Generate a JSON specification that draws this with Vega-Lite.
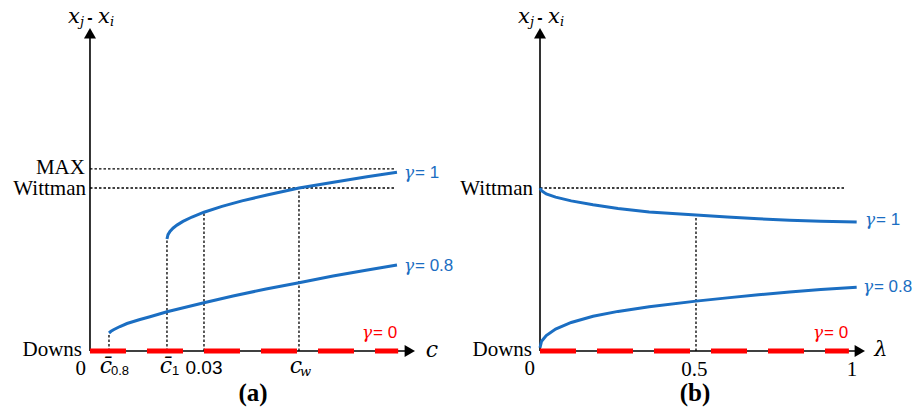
{
  "$schema": "https://vega.github.io/schema/vega-lite/v6.json",
  "padding": 0,
  "spacing": 0,
  "bounds": "flush",
  "background": "white",
  "config": {"view": {"stroke": null}},
  "hconcat": [
    {
      "width": 459,
      "height": 412,
      "encoding": {
        "x": {"field": "x", "type": "quantitative", "scale": {"domain": [-0.02368, 0.09711], "nice": false, "zero": false}, "axis": null},
        "y": {"field": "y", "type": "quantitative", "scale": {"domain": [-0.3742, 2.1534], "nice": false, "zero": false}, "axis": null}
      },
      "layer": [
        {
          "data": {"values": [
            {"x": 0, "y": 1.117, "x2": 0.0803, "y2": 1.117},
            {"x": 0, "y": 1.0, "x2": 0.0803, "y2": 1.0},
            {"x": 0.005, "y": 0, "x2": 0.005, "y2": 0.1104},
            {"x": 0.02026, "y": 0, "x2": 0.02026, "y2": 0.6871},
            {"x": 0.03, "y": 0, "x2": 0.03, "y2": 0.8515},
            {"x": 0.055, "y": 0, "x2": 0.055, "y2": 1.0}
          ]},
          "mark": {"type": "rule", "color": "black", "strokeWidth": 1.3, "strokeDash": [2.5, 2]},
          "encoding": {"x2": {"field": "x2"}, "y2": {"field": "y2"}}
        },
        {
          "data": {"values": [
            {"x": 0, "y": 0, "x2": 0.0838, "y2": 0},
            {"x": 0, "y": 0, "x2": 0, "y2": 1.945}
          ]},
          "mark": {"type": "rule", "color": "black", "strokeWidth": 1.6},
          "encoding": {"x2": {"field": "x2"}, "y2": {"field": "y2"}}
        },
        {
          "data": {"values": [{"x": 0, "y": 0, "x2": 0.0811, "y2": 0}]},
          "mark": {"type": "rule", "color": "#ff0000", "strokeWidth": 5, "strokeDash": [36, 21], "strokeCap": "butt"},
          "encoding": {"x2": {"field": "x2"}, "y2": {"field": "y2"}}
        },
        {
          "data": {"values": [
            {"series": "g1", "x": 0.02026, "y": 0.6871},
            {"series": "g1", "x": 0.02053, "y": 0.7141},
            {"series": "g1", "x": 0.02105, "y": 0.7337},
            {"series": "g1", "x": 0.02184, "y": 0.7534},
            {"series": "g1", "x": 0.02289, "y": 0.7724},
            {"series": "g1", "x": 0.02447, "y": 0.7951},
            {"series": "g1", "x": 0.02684, "y": 0.8221},
            {"series": "g1", "x": 0.03, "y": 0.8515},
            {"series": "g1", "x": 0.03474, "y": 0.8871},
            {"series": "g1", "x": 0.04, "y": 0.9209},
            {"series": "g1", "x": 0.04658, "y": 0.9571},
            {"series": "g1", "x": 0.055, "y": 1.0},
            {"series": "g1", "x": 0.06368, "y": 1.0337},
            {"series": "g1", "x": 0.07289, "y": 1.0687},
            {"series": "g1", "x": 0.08079, "y": 1.0963},
            {"series": "g08", "x": 0.005, "y": 0.1104},
            {"series": "g08", "x": 0.00553, "y": 0.1209},
            {"series": "g08", "x": 0.00632, "y": 0.1319},
            {"series": "g08", "x": 0.00789, "y": 0.1503},
            {"series": "g08", "x": 0.00974, "y": 0.1687},
            {"series": "g08", "x": 0.01316, "y": 0.1933},
            {"series": "g08", "x": 0.01579, "y": 0.2104},
            {"series": "g08", "x": 0.02026, "y": 0.2411},
            {"series": "g08", "x": 0.03, "y": 0.2963},
            {"series": "g08", "x": 0.03763, "y": 0.3374},
            {"series": "g08", "x": 0.04632, "y": 0.3804},
            {"series": "g08", "x": 0.055, "y": 0.419},
            {"series": "g08", "x": 0.06395, "y": 0.4601},
            {"series": "g08", "x": 0.07263, "y": 0.4957},
            {"series": "g08", "x": 0.08079, "y": 0.5276}
          ]},
          "mark": {"type": "line", "color": "#1b6ec2", "strokeWidth": 3},
          "encoding": {"detail": {"field": "series"}}
        },
        {
          "data": {"values": [
            {"x": 0, "y": 1.9497, "dir": "up"},
            {"x": 0.08416, "y": 0, "dir": "right"}
          ]},
          "mark": {"type": "point", "filled": true, "color": "black", "size": 144, "opacity": 1, "strokeWidth": 0},
          "encoding": {"shape": {"field": "dir", "type": "nominal", "scale": {"domain": ["up", "right"], "range": ["triangle-up", "triangle-right"]}, "legend": null}}
        },
        {
          "data": {"values": [
            {"x": -0.00132, "y": 1.122, "label": "MAX"},
            {"x": -0.00105, "y": 0.995, "label": "Wittman"},
            {"x": -0.0021, "y": 0.006, "label": "Downs"},
            {"x": -0.00105, "y": -0.108, "label": "0"}
          ]},
          "mark": {"type": "text", "font": "Liberation Serif", "fontSize": 21, "align": "right", "baseline": "middle", "color": "black"},
          "encoding": {"text": {"field": "label"}}
        },
        {
          "data": {"values": [{"x": 0.03, "y": -0.1043, "label": "0.03"}]},
          "mark": {"type": "text", "font": "Liberation Sans", "fontSize": 19, "align": "center", "baseline": "middle", "color": "black"},
          "encoding": {"text": {"field": "label"}}
        },
        {
          "data": {"values": [
            {"x": 0.00421, "y": -0.092, "label": "c̄"},
            {"x": 0.02, "y": -0.092, "label": "c̄"},
            {"x": 0.0542, "y": -0.092, "label": "c"},
            {"x": 0.09, "y": 0.006, "label": "c"}
          ]},
          "mark": {"type": "text", "font": "DejaVu Serif", "fontStyle": "italic", "fontSize": 22, "align": "center", "baseline": "middle", "color": "black"},
          "encoding": {"text": {"field": "label"}}
        },
        {
          "data": {"values": [
            {"x": 0.00553, "y": -0.1227, "label": "0.8"},
            {"x": 0.02158, "y": -0.1227, "label": "1"}
          ]},
          "mark": {"type": "text", "font": "Liberation Sans", "fontSize": 13, "align": "left", "baseline": "middle", "color": "black"},
          "encoding": {"text": {"field": "label"}}
        },
        {
          "data": {"values": [
            {"x": 0.05526, "y": -0.1288, "label": "w"},
            {"x": -0.00263, "y": 2.018, "label": "j"},
            {"x": 0.00526, "y": 2.018, "label": "i"}
          ]},
          "mark": {"type": "text", "font": "DejaVu Serif", "fontStyle": "italic", "fontSize": 13, "align": "left", "baseline": "middle", "color": "black"},
          "encoding": {"text": {"field": "label"}}
        },
        {
          "data": {"values": [
            {"x": -0.00421, "y": 2.049, "label": "x"},
            {"x": 0.00368, "y": 2.049, "label": "x"}
          ]},
          "mark": {"type": "text", "font": "DejaVu Serif", "fontStyle": "italic", "fontSize": 21, "align": "center", "baseline": "middle", "color": "black"},
          "encoding": {"text": {"field": "label"}}
        },
        {
          "data": {"values": [{"x": 0, "y": 2.043, "label": "-"}]},
          "mark": {"type": "text", "font": "Liberation Sans", "fontSize": 16, "fontWeight": "bold", "align": "center", "baseline": "middle", "color": "black"},
          "encoding": {"text": {"field": "label"}}
        },
        {
          "data": {"values": [{"x": 0.0429, "y": -0.2577, "label": "(a)"}]},
          "mark": {"type": "text", "font": "Liberation Serif", "fontWeight": "bold", "fontSize": 25, "align": "center", "baseline": "middle", "color": "black"},
          "encoding": {"text": {"field": "label"}}
        },
        {
          "data": {"values": [
            {"x": 0.08263, "y": 1.092, "sym": "γ", "rest": "= 1", "g": "1"},
            {"x": 0.08263, "y": 0.5215, "sym": "γ", "rest": "= 0.8", "g": "0.8"},
            {"x": 0.07158, "y": 0.1104, "sym": "γ", "rest": "= 0", "g": "0"}
          ]},
          "layer": [
            {
              "mark": {"type": "text", "font": "DejaVu Serif", "fontStyle": "italic", "fontSize": 17, "align": "left", "baseline": "middle"},
              "encoding": {
                "text": {"field": "sym"},
                "color": {"field": "g", "type": "nominal", "scale": {"domain": ["1", "0.8", "0"], "range": ["#1b6ec2", "#1b6ec2", "#ff0000"]}, "legend": null}
              }
            },
            {
              "mark": {"type": "text", "font": "Liberation Sans", "fontSize": 17, "align": "left", "baseline": "middle", "dx": 11},
              "encoding": {
                "text": {"field": "rest"},
                "color": {"field": "g", "type": "nominal", "scale": {"domain": ["1", "0.8", "0"], "range": ["#1b6ec2", "#1b6ec2", "#ff0000"]}, "legend": null}
              }
            }
          ]
        }
      ]
    },
    {
      "width": 459,
      "height": 412,
      "encoding": {
        "x": {"field": "x", "type": "quantitative", "scale": {"domain": [-0.25962, 1.21154], "nice": false, "zero": false}, "axis": null},
        "y": {"field": "y", "type": "quantitative", "scale": {"domain": [-0.3742, 2.1534], "nice": false, "zero": false}, "axis": null}
      },
      "layer": [
        {
          "data": {"values": [
            {"x": 0, "y": 1.0, "x2": 0.9776, "y2": 1.0},
            {"x": 0.5, "y": 0, "x2": 0.5, "y2": 0.834}
          ]},
          "mark": {"type": "rule", "color": "black", "strokeWidth": 1.3, "strokeDash": [2.5, 2]},
          "encoding": {"x2": {"field": "x2"}, "y2": {"field": "y2"}}
        },
        {
          "data": {"values": [
            {"x": 0, "y": 0, "x2": 1.02, "y2": 0},
            {"x": 0, "y": 0, "x2": 0, "y2": 1.945}
          ]},
          "mark": {"type": "rule", "color": "black", "strokeWidth": 1.6},
          "encoding": {"x2": {"field": "x2"}, "y2": {"field": "y2"}}
        },
        {
          "data": {"values": [{"x": 0, "y": 0, "x2": 0.99, "y2": 0}]},
          "mark": {"type": "rule", "color": "#ff0000", "strokeWidth": 5, "strokeDash": [36, 21], "strokeCap": "butt"},
          "encoding": {"x2": {"field": "x2"}, "y2": {"field": "y2"}}
        },
        {
          "data": {"values": [
            {"series": "g1", "x": 0, "y": 1.0},
            {"series": "g1", "x": 0.005, "y": 0.984},
            {"series": "g1", "x": 0.02, "y": 0.964},
            {"series": "g1", "x": 0.05, "y": 0.944},
            {"series": "g1", "x": 0.1, "y": 0.921},
            {"series": "g1", "x": 0.17, "y": 0.897},
            {"series": "g1", "x": 0.25, "y": 0.874},
            {"series": "g1", "x": 0.35, "y": 0.853},
            {"series": "g1", "x": 0.5, "y": 0.834},
            {"series": "g1", "x": 0.6, "y": 0.822},
            {"series": "g1", "x": 0.7, "y": 0.811},
            {"series": "g1", "x": 0.8, "y": 0.802},
            {"series": "g1", "x": 0.9, "y": 0.796},
            {"series": "g1", "x": 1.015, "y": 0.791},
            {"series": "g08", "x": 0, "y": 0.02},
            {"series": "g08", "x": 0.005, "y": 0.06},
            {"series": "g08", "x": 0.02, "y": 0.095},
            {"series": "g08", "x": 0.05, "y": 0.135},
            {"series": "g08", "x": 0.1, "y": 0.175},
            {"series": "g08", "x": 0.17, "y": 0.213},
            {"series": "g08", "x": 0.25, "y": 0.243},
            {"series": "g08", "x": 0.35, "y": 0.272},
            {"series": "g08", "x": 0.5, "y": 0.306},
            {"series": "g08", "x": 0.6, "y": 0.326},
            {"series": "g08", "x": 0.7, "y": 0.345},
            {"series": "g08", "x": 0.8, "y": 0.362},
            {"series": "g08", "x": 0.9, "y": 0.377},
            {"series": "g08", "x": 1.015, "y": 0.391}
          ]},
          "mark": {"type": "line", "color": "#1b6ec2", "strokeWidth": 3},
          "encoding": {"detail": {"field": "series"}}
        },
        {
          "data": {"values": [
            {"x": 0, "y": 1.9497, "dir": "up"},
            {"x": 1.025, "y": 0, "dir": "right"}
          ]},
          "mark": {"type": "point", "filled": true, "color": "black", "size": 144, "opacity": 1, "strokeWidth": 0},
          "encoding": {"shape": {"field": "dir", "type": "nominal", "scale": {"domain": ["up", "right"], "range": ["triangle-up", "triangle-right"]}, "legend": null}}
        },
        {
          "data": {"values": [
            {"x": -0.0224, "y": 0.995, "label": "Wittman"},
            {"x": -0.0256, "y": 0.006, "label": "Downs"},
            {"x": -0.016, "y": -0.108, "label": "0"}
          ]},
          "mark": {"type": "text", "font": "Liberation Serif", "fontSize": 21, "align": "right", "baseline": "middle", "color": "black"},
          "encoding": {"text": {"field": "label"}}
        },
        {
          "data": {"values": [
            {"x": 0.495, "y": -0.1166, "label": "0.5"},
            {"x": 1.0, "y": -0.1166, "label": "1"}
          ]},
          "mark": {"type": "text", "font": "Liberation Serif", "fontSize": 21, "align": "center", "baseline": "middle", "color": "black"},
          "encoding": {"text": {"field": "label"}}
        },
        {
          "data": {"values": [
            {"x": -0.032, "y": 2.018, "label": "j"},
            {"x": 0.0641, "y": 2.018, "label": "i"}
          ]},
          "mark": {"type": "text", "font": "DejaVu Serif", "fontStyle": "italic", "fontSize": 13, "align": "left", "baseline": "middle", "color": "black"},
          "encoding": {"text": {"field": "label"}}
        },
        {
          "data": {"values": [
            {"x": -0.0513, "y": 2.049, "label": "x"},
            {"x": 0.0449, "y": 2.049, "label": "x"},
            {"x": 1.093, "y": 0.006, "label": "λ"}
          ]},
          "mark": {"type": "text", "font": "DejaVu Serif", "fontStyle": "italic", "fontSize": 21, "align": "center", "baseline": "middle", "color": "black"},
          "encoding": {"text": {"field": "label"}}
        },
        {
          "data": {"values": [{"x": 0, "y": 2.043, "label": "-"}]},
          "mark": {"type": "text", "font": "Liberation Sans", "fontSize": 16, "fontWeight": "bold", "align": "center", "baseline": "middle", "color": "black"},
          "encoding": {"text": {"field": "label"}}
        },
        {
          "data": {"values": [{"x": 0.4968, "y": -0.2577, "label": "(b)"}]},
          "mark": {"type": "text", "font": "Liberation Serif", "fontWeight": "bold", "fontSize": 25, "align": "center", "baseline": "middle", "color": "black"},
          "encoding": {"text": {"field": "label"}}
        },
        {
          "data": {"values": [
            {"x": 1.0417, "y": 0.8037, "sym": "γ", "rest": "= 1", "g": "1"},
            {"x": 1.035, "y": 0.3926, "sym": "γ", "rest": "= 0.8", "g": "0.8"},
            {"x": 0.875, "y": 0.1104, "sym": "γ", "rest": "= 0", "g": "0"}
          ]},
          "layer": [
            {
              "mark": {"type": "text", "font": "DejaVu Serif", "fontStyle": "italic", "fontSize": 17, "align": "left", "baseline": "middle"},
              "encoding": {
                "text": {"field": "sym"},
                "color": {"field": "g", "type": "nominal", "scale": {"domain": ["1", "0.8", "0"], "range": ["#1b6ec2", "#1b6ec2", "#ff0000"]}, "legend": null}
              }
            },
            {
              "mark": {"type": "text", "font": "Liberation Sans", "fontSize": 17, "align": "left", "baseline": "middle", "dx": 11},
              "encoding": {
                "text": {"field": "rest"},
                "color": {"field": "g", "type": "nominal", "scale": {"domain": ["1", "0.8", "0"], "range": ["#1b6ec2", "#1b6ec2", "#ff0000"]}, "legend": null}
              }
            }
          ]
        }
      ]
    }
  ]
}
